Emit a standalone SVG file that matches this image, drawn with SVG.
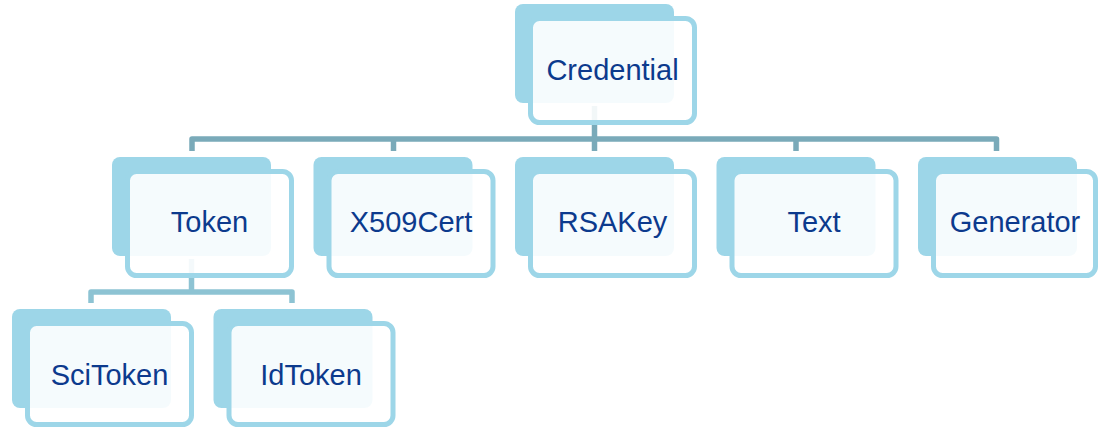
<svg xmlns="http://www.w3.org/2000/svg" width="1099" height="431" viewBox="0 0 1099 431">
  <defs>
    <style>
      .back { fill: #9DD6E8; }
      .front { fill: #ffffff; fill-opacity: 0.9; stroke: #9DD6E8; stroke-width: 5; }
      .label { font-family: "Liberation Sans", Arial, sans-serif; font-size: 29px; fill: #0C3A8D; text-anchor: middle; }
      .trunk { fill: none; stroke: #7AAAB9; stroke-width: 5.5; stroke-linejoin: round; }
      .branch { fill: none; stroke: #8DC3D3; stroke-width: 5.5; stroke-linejoin: round; }
    </style>
  </defs>

  <!-- connectors sit behind the nodes -->
  <g id="connectors">
    <path class="trunk" d="M594.5 106 V139"/>
    <path class="trunk" d="M192 151 V139 H996.5 V151"/>
    <path class="trunk" d="M393.5 139 V151"/>
    <path class="trunk" d="M594.5 139 V151"/>
    <path class="trunk" d="M796 139 V151"/>
    <path class="branch" d="M191.5 259 V292"/>
    <path class="branch" d="M91 303 V292 H292 V303"/>
  </g>

  <g id="credential">
    <rect class="back" x="515" y="4" width="159" height="99" rx="8"/>
    <rect class="front" x="530.5" y="18.5" width="164" height="104" rx="9"/>
    <text class="label" x="612.5" y="80">Credential</text>
  </g>

  <g id="token">
    <rect class="back" x="112" y="157" width="159" height="99" rx="8"/>
    <rect class="front" x="127.5" y="171.5" width="164" height="104" rx="9"/>
    <text class="label" x="209.5" y="232">Token</text>
  </g>

  <g id="x509cert">
    <rect class="back" x="313.5" y="157" width="159" height="99" rx="8"/>
    <rect class="front" x="329" y="171.5" width="164" height="104" rx="9"/>
    <text class="label" x="411" y="232">X509Cert</text>
  </g>

  <g id="rsakey">
    <rect class="back" x="515" y="157" width="159" height="99" rx="8"/>
    <rect class="front" x="530.5" y="171.5" width="164" height="104" rx="9"/>
    <text class="label" x="612.5" y="232">RSAKey</text>
  </g>

  <g id="text">
    <rect class="back" x="716.5" y="157" width="159" height="99" rx="8"/>
    <rect class="front" x="732" y="171.5" width="164" height="104" rx="9"/>
    <text class="label" x="814" y="232">Text</text>
  </g>

  <g id="generator">
    <rect class="back" x="918" y="157" width="159" height="99" rx="8"/>
    <rect class="front" x="933.5" y="171.5" width="162" height="104" rx="9"/>
    <text class="label" x="1015" y="232">Generator</text>
  </g>

  <g id="scitoken">
    <rect class="back" x="12" y="309" width="159" height="99" rx="8"/>
    <rect class="front" x="27.5" y="323.5" width="164" height="101" rx="9"/>
    <text class="label" x="109.5" y="384.5">SciToken</text>
  </g>

  <g id="idtoken">
    <rect class="back" x="213.5" y="309" width="159" height="99" rx="8"/>
    <rect class="front" x="229" y="323.5" width="164" height="101" rx="9"/>
    <text class="label" x="311" y="384.5">IdToken</text>
  </g>
</svg>
